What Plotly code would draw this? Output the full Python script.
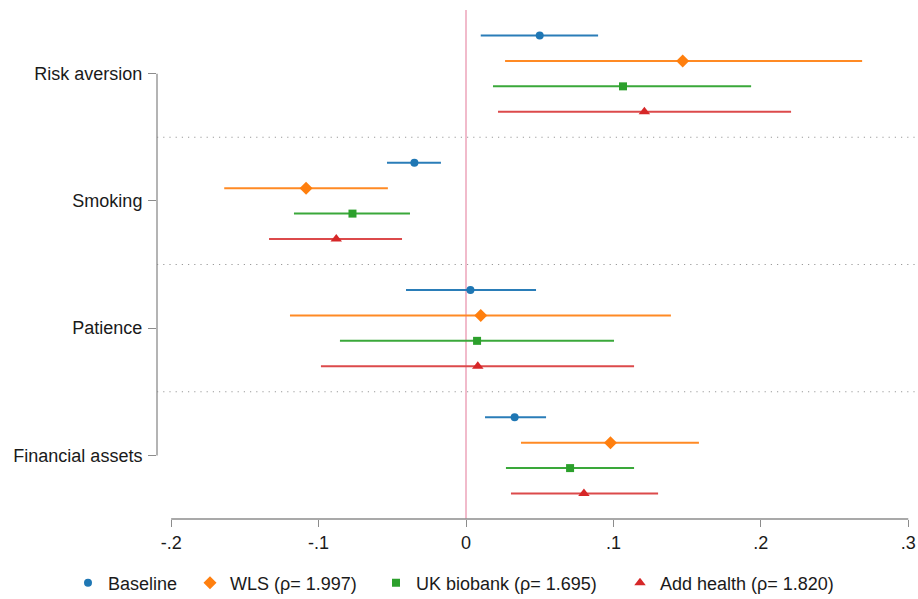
import plotly.graph_objects as go

categories = ["Risk aversion", "Smoking", "Patience", "Financial assets"]
series_names = ["Baseline", "WLS (ρ= 1.997)", "UK biobank (ρ= 1.695)", "Add health (ρ= 1.820)"]

# point estimates per series (order follows categories)
est_baseline = [0.050, -0.035, 0.003, 0.033]
est_wls = [0.147, -0.1085, 0.010, 0.098]
est_ukb = [0.1065, -0.077, 0.0075, 0.0706]
est_add = [0.121, -0.088, 0.008, 0.080]

lo_baseline = [0.010, -0.0536, -0.0407, 0.0129]
hi_baseline = [0.0896, -0.017, 0.0475, 0.0543]
lo_wls = [0.0265, -0.164, -0.1194, 0.0373]
hi_wls = [0.2687, -0.053, 0.139, 0.158]
lo_ukb = [0.0183, -0.1167, -0.0855, 0.0271]
hi_ukb = [0.1934, -0.038, 0.1004, 0.114]
lo_add = [0.0217, -0.1336, -0.0984, 0.0305]
hi_add = [0.2205, -0.0434, 0.114, 0.1303]

x_ticks = [-0.2, -0.1, 0, 0.1, 0.2, 0.3]
x_ticklabels = ["-.2", "-.1", "0", ".1", ".2", ".3"]

est = [est_baseline, est_wls, est_ukb, est_add]
lo = [lo_baseline, lo_wls, lo_ukb, lo_add]
hi = [hi_baseline, hi_wls, hi_ukb, hi_add]
colors = ["#1f77b4", "#ff7f0e", "#2ca02c", "#d62728"]
line_colors = ["#2a7db8", "#ff8a24", "#3aa83a", "#dc4a4b"]
symbols = ["circle", "diamond", "square", "triangle-up"]
marker_sizes = [8, 10, 8, 10]
offsets = [-0.3, -0.1, 0.1, 0.3]
legend_ids = ["legend", "legend2", "legend3", "legend4"]
legend_marker_px = [88, 210, 396, 640]

FONT = "Liberation Sans, Arial, sans-serif"
fig = go.Figure()
for s in range(4):
    ys = [i + offsets[s] for i in range(len(categories))]
    fig.add_trace(go.Scatter(
        x=est[s], y=ys, mode="markers", name=series_names[s],
        legend=legend_ids[s],
        marker=dict(symbol=symbols[s], color=colors[s], size=marker_sizes[s]),
        error_x=dict(type="data", symmetric=False,
                     array=[h - e for h, e in zip(hi[s], est[s])],
                     arrayminus=[e - l for e, l in zip(est[s], lo[s])],
                     color=line_colors[s], thickness=2, width=0),
    ))

shapes = []
# zero line
shapes.append(dict(type="line", xref="x", yref="paper", x0=0, x1=0, y0=0, y1=1,
                   line=dict(color="#f0b4c6", width=1.8), layer="below"))
# separators
for yv in [0.5, 1.5, 2.5]:
    shapes.append(dict(type="line", xref="paper", yref="y", x0=0, x1=1, y0=yv, y1=yv,
                       line=dict(color="#9a9a9a", width=1.2, dash="1.2px,5px"), layer="below"))
# y axis line
shapes.append(dict(type="line", xref="paper", yref="y", x0=0, x1=0, y0=0, y1=3,
                   line=dict(color="#8c8c8c", width=1.3)))
# x axis line
shapes.append(dict(type="line", xref="x", yref="paper", x0=-0.2, x1=0.3, y0=0, y1=0,
                   line=dict(color="#8c8c8c", width=1.3)))

layout_legends = {}
for s in range(4):
    layout_legends[legend_ids[s]] = dict(
        orientation="h", xref="container", yref="container",
        x=(legend_marker_px[s] - 20) / 918, xanchor="left",
        y=1 - 583 / 599, yanchor="middle",
        font=dict(size=18), itemwidth=30, bgcolor="rgba(0,0,0,0)")

fig.update_layout(
    width=918, height=599,
    margin=dict(l=157, r=0, t=10, b=80, autoexpand=False),
    plot_bgcolor="white", paper_bgcolor="white",
    font=dict(family=FONT, size=18, color="#1a1a1a"),
    shapes=shapes,
    showlegend=True,
    xaxis=dict(range=[-0.2096, 0.3066], tickvals=x_ticks, ticktext=x_ticklabels,
               showgrid=False, zeroline=False, showline=False, automargin=False,
               ticks="outside", ticklen=7, tickcolor="#8c8c8c", tickwidth=1.3,
               tickfont=dict(size=18)),
    yaxis=dict(range=[3.5, -0.5], tickvals=[0, 1, 2, 3], ticktext=categories,
               showgrid=False, zeroline=False, showline=False, automargin=False,
               ticks="outside", ticklen=8, tickcolor="#8c8c8c", tickwidth=1.3,
               tickfont=dict(size=18), ticklabelstandoff=2),
    **layout_legends,
)

fig.write_html("out.html", config={"displayModeBar": False},
               post_script="document.body.style.margin='0';")
